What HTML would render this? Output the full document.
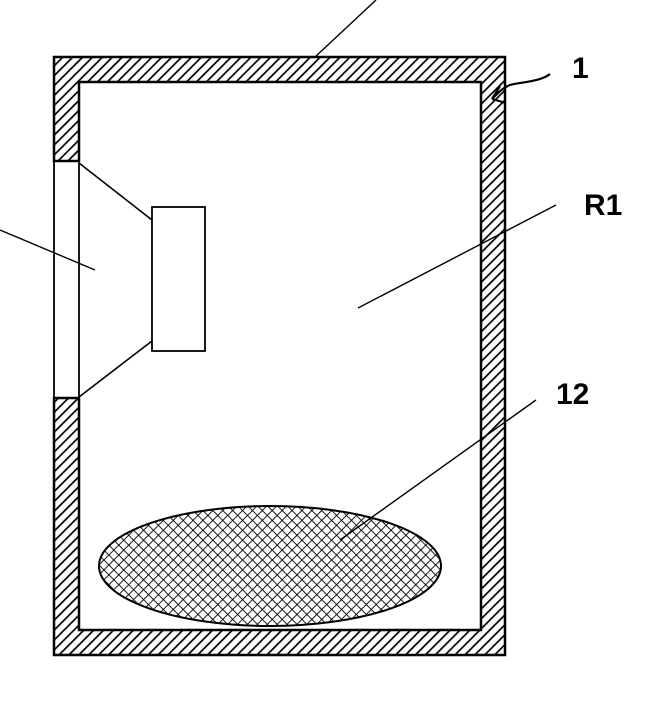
<!DOCTYPE html>
<html><head><style>body{margin:0;background:#fff}svg{display:block}text{font-family:"Liberation Sans",Arial,sans-serif;font-weight:bold;font-size:30px}</style></head>
<body>
<svg width="655" height="715" viewBox="0 0 655 715" xmlns="http://www.w3.org/2000/svg">
<defs>
<pattern id="h" width="7" height="7" patternUnits="userSpaceOnUse" patternTransform="rotate(45)">
<rect width="7" height="7" fill="#fff"/><line x1="0" y1="0" x2="0" y2="7" stroke="#000" stroke-width="3.4"/>
</pattern>
<pattern id="x" width="7" height="7" patternUnits="userSpaceOnUse" patternTransform="rotate(45)">
<rect width="7" height="7" fill="#fff"/><line x1="0" y1="0" x2="0" y2="7" stroke="#000" stroke-width="1.8"/><line x1="0" y1="0" x2="7" y2="0" stroke="#000" stroke-width="1.8"/>
</pattern>
</defs>
<path d="M54,57 H505 V655 H54 V398 H79 V630 H481 V82 H79 V161 H54 Z" fill="url(#h)" stroke="#000" stroke-width="2.5"/>
<line x1="54" y1="161" x2="54" y2="398" stroke="#000" stroke-width="1.8"/>
<line x1="79" y1="161" x2="79" y2="398" stroke="#000" stroke-width="1.8"/>
<line x1="54" y1="161" x2="79" y2="161" stroke="#000" stroke-width="1.8"/>
<line x1="54" y1="398" x2="79" y2="398" stroke="#000" stroke-width="1.8"/>
<line x1="79" y1="163" x2="152" y2="220" stroke="#000" stroke-width="1.6"/>
<line x1="79" y1="397" x2="152" y2="341" stroke="#000" stroke-width="1.6"/>
<rect x="152" y="207" width="53" height="144" fill="#fff" stroke="#000" stroke-width="1.8"/>
<ellipse cx="270" cy="566" rx="171" ry="60" fill="url(#x)" stroke="#000" stroke-width="2"/>
<line x1="315" y1="57" x2="376" y2="0" stroke="#000" stroke-width="1.4"/>
<line x1="0" y1="230" x2="95" y2="270" stroke="#000" stroke-width="1.4"/>
<line x1="556" y1="205" x2="358" y2="308" stroke="#000" stroke-width="1.4"/>
<line x1="536" y1="400" x2="340" y2="540" stroke="#000" stroke-width="1.4"/>
<path d="M550,74 C540,82 520,82 510,85 C502,88 497,94 492,99 M492,99 L500,86 M492,99 L506,103" fill="none" stroke="#000" stroke-width="2.2"/>
<text x="572" y="78">1</text>
<text x="584" y="215">R1</text>
<text x="556" y="404">12</text>
</svg>
</body></html>
